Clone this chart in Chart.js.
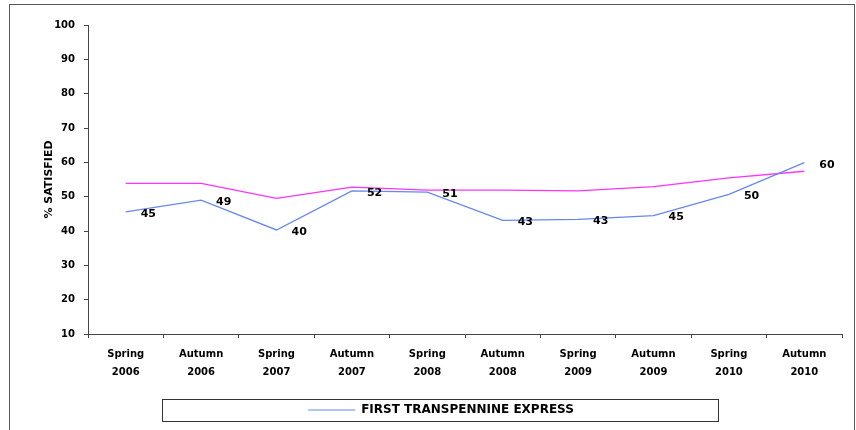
<!DOCTYPE html>
<html>
<head>
<meta charset="utf-8">
<script src="https://cdn.jsdelivr.net/npm/chart.js@4/dist/chart.umd.min.js"></script>
<style>
  html, body { margin: 0; padding: 0; background: #fff; }
  #wrap { width: 856px; height: 430px; }
</style>
</head>
<body>
<div id="wrap"><canvas id="sat-chart" width="856" height="430"></canvas></div>
<script>
// periods on the x axis (two lines each)
var periods = [
  ["Spring", "2006"], ["Autumn", "2006"], ["Spring", "2007"], ["Autumn", "2007"],
  ["Spring", "2008"], ["Autumn", "2008"], ["Spring", "2009"], ["Autumn", "2009"],
  ["Spring", "2010"], ["Autumn", "2010"]
];
// First TransPennine Express, % satisfied
var tpeValues = [45.6, 49.0, 40.3, 51.7, 51.3, 43.1, 43.4, 44.5, 50.7, 59.9];
var tpeLabels = [45, 49, 40, 52, 51, 43, 43, 45, 50, 60];
// comparison line (no legend entry in the original)
var otherValues = [53.9, 53.9, 49.5, 52.8, 51.9, 51.9, 51.7, 52.9, 55.5, 57.4];
var yTicks = [10, 20, 30, 40, 50, 60, 70, 80, 90, 100];

var boldFont = { family: "DejaVu Sans", size: 10, weight: "bold", lineHeight: 1.8 };

// frame round the whole chart and box round the legend
var framePlugin = {
  id: "frame",
  afterDraw: function (chart) {
    var ctx = chart.ctx;
    ctx.save();
    ctx.strokeStyle = "#555";
    ctx.lineWidth = 1;
    ctx.strokeRect(9.5, 4.5, 845, 440);
    ctx.strokeStyle = "#333";
    ctx.strokeRect(162.5, 399.5, 556, 22);
    ctx.restore();
  }
};

// numbers next to the blue points
var valueLabels = {
  id: "valueLabels",
  afterDatasetsDraw: function (chart) {
    var ctx = chart.ctx;
    var meta = chart.getDatasetMeta(0);
    ctx.save();
    ctx.font = "bold 11px 'DejaVu Sans'";
    ctx.fillStyle = "#000";
    ctx.textAlign = "left";
    ctx.textBaseline = "middle";
    meta.data.forEach(function (pt, i) {
      ctx.fillText(String(tpeLabels[i]), pt.x + 15, pt.y + 2);
    });
    ctx.restore();
  }
};

var ctx = document.getElementById("sat-chart").getContext("2d");
var chart = new Chart(ctx, {
  type: "line",
  data: {
    labels: periods,
    datasets: [{
      label: "FIRST TRANSPENNINE EXPRESS",
      data: tpeValues,
      borderColor: "#6688ee",
      backgroundColor: "#6688ee",
      borderWidth: 1.3,
      pointRadius: 0,
      tension: 0,
      fill: false
    }, {
      label: "other",
      data: otherValues,
      borderColor: "#ff33ff",
      backgroundColor: "#ff33ff",
      borderWidth: 1.3,
      pointRadius: 0,
      tension: 0,
      fill: false
    }]
  },
  options: {
    responsive: false,
    animation: false,
    layout: { padding: { left: 40, right: 14, top: 25, bottom: 4 } },
    plugins: {
      tooltip: { enabled: false },
      legend: {
        position: "bottom",
        labels: {
          color: "#000",
          font: { family: "DejaVu Sans", size: 12, weight: "bold" },
          boxWidth: 47,
          boxHeight: 1,
          padding: 6,
          filter: function (item) { return item.datasetIndex === 0; },
          generateLabels: function (chart) {
            var items = Chart.defaults.plugins.legend.labels.generateLabels(chart);
            items.forEach(function (it) { it.lineWidth = 0; });
            return items;
          }
        }
      }
    },
    scales: {
      x: {
        offset: true,
        afterFit: function (s) { s.height = 64; },
        grid: { display: true, drawOnChartArea: false, offset: true, color: "#444", tickLength: 4 },
        border: { display: true, color: "#444", width: 1 },
        ticks: { color: "#000", font: boldFont, padding: 7, maxRotation: 0, autoSkip: false }
      },
      y: {
        min: 10,
        max: 100,
        afterFit: function (s) { s.width = 48; },
        afterBuildTicks: function (s) { s.ticks = yTicks.map(function (v) { return { value: v }; }); },
        grid: { display: true, drawOnChartArea: false, color: "#444", tickLength: 4 },
        border: { display: true, color: "#444", width: 1 },
        ticks: { color: "#000", font: { family: "DejaVu Sans", size: 10, weight: "bold" }, padding: 9 },
        title: {
          display: true,
          text: "% SATISFIED",
          color: "#000",
          font: { family: "DejaVu Sans", size: 11, weight: "bold" },
          padding: { top: 3, bottom: 0 }
        }
      }
    }
  },
  plugins: [framePlugin, valueLabels]
});
</script>
</body>
</html>
